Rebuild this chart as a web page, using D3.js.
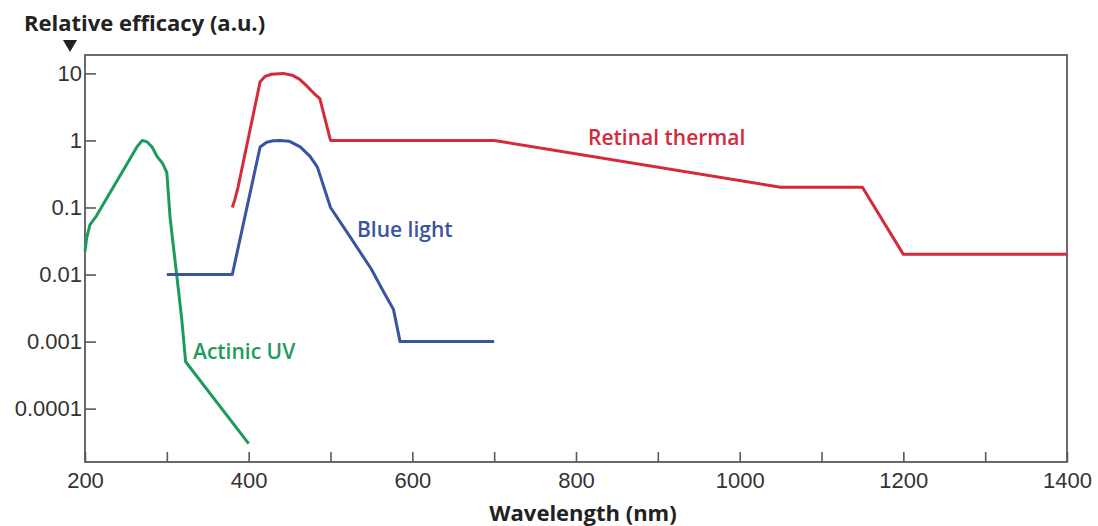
<!DOCTYPE html>
<html>
<head>
<meta charset="utf-8">
<script src="https://cdn.jsdelivr.net/npm/d3@7"></script>
<style>
    body { margin: 0; background: #fff; }
    svg { font-family: "Open Sans", Lato, sans-serif; }
</style>
</head>
<body>
<div id="chart"></div>
<script>
// Actinic UV hazard curve
const uvWavelength = [200, 202, 206, 214, 264, 270, 276, 282, 288, 295, 300, 304, 312, 318, 323, 400];
const uvEfficacy = [0.022, 0.035, 0.055, 0.075, 0.82, 1.0, 0.95, 0.8, 0.58, 0.45, 0.33, 0.07, 0.01, 0.0023, 0.0005, 0.00003];

// Blue light hazard curve
const blueWavelength = [300, 380, 414, 422, 430, 438, 450, 463, 475, 484, 500, 525, 550, 565, 577, 585, 700];
const blueEfficacy = [0.01, 0.01, 0.8, 0.94, 0.99, 1.0, 0.97, 0.8, 0.58, 0.4, 0.1, 0.035, 0.012, 0.0055, 0.003, 0.001, 0.001];

// Retinal thermal hazard curve
const thermalWavelength = [380, 383, 387, 414, 420, 428, 442, 453, 462, 471, 480, 487, 500, 700, 1050, 1150, 1200, 1400];
const thermalEfficacy = [0.1, 0.13, 0.2, 7.5, 9.0, 9.7, 10, 9.4, 8.2, 6.5, 5.0, 4.2, 1.0, 1.0, 0.2, 0.2, 0.02, 0.02];

const xTicks = [200, 300, 400, 500, 600, 700, 800, 900, 1000, 1100, 1200, 1300, 1400];
const yTicks = [10, 1, 0.1, 0.01, 0.001, 0.0001];
const yTickLabels = ["10", "1", "0.1", "0.01", "0.001", "0.0001"];

const width = 1098, height = 526;
const margin = {top: 55, right: 31, bottom: 64, left: 85};

const svg = d3.select("#chart").append("svg")
    .attr("width", width).attr("height", height);

const x = d3.scaleLinear().domain([200, 1400]).range([margin.left, width - margin.right]);
// 10 sits at y=73.3, one decade = 67.2px
const y = d3.scaleLog().domain([18.8, 1.6e-5]).range([margin.top, height - margin.bottom]);

// frame
svg.append("rect")
    .attr("x", margin.left).attr("y", margin.top)
    .attr("width", width - margin.left - margin.right)
    .attr("height", height - margin.top - margin.bottom)
    .attr("fill", "none").attr("stroke", "#5a5a5a").attr("stroke-width", 1.8);

const xAxis = d3.axisBottom(x).tickValues(xTicks).tickSizeInner(-10).tickSizeOuter(0).tickPadding(10)
    .tickFormat(d => d % 200 === 0 ? d : "");
const yAxis = d3.axisLeft(y).tickValues(yTicks).tickSizeInner(-11).tickSizeOuter(0).tickPadding(3)
    .tickFormat((d, i) => yTickLabels[i]);

const gx = svg.append("g").attr("transform", "translate(0," + (height - margin.bottom) + ")").call(xAxis);
const gy = svg.append("g").attr("transform", "translate(" + margin.left + ",0)").call(yAxis);

[gx, gy].forEach(function (g) {
    g.select(".domain").remove();
    g.selectAll(".tick line").attr("stroke", "#5a5a5a").attr("stroke-width", 1.6);
    g.selectAll(".tick text").attr("fill", "#333").style("font-size", "22px");
});

// curves
const line = d3.line().x(d => x(d[0])).y(d => y(d[1]));

const series = [
    {wl: uvWavelength, val: uvEfficacy, color: "#1d9b5c"},
    {wl: blueWavelength, val: blueEfficacy, color: "#3a54a0"},
    {wl: thermalWavelength, val: thermalEfficacy, color: "#d42a3c"}
];

series.forEach(function (s) {
    svg.append("path")
        .datum(s.wl.map((w, i) => [w, s.val[i]]))
        .attr("d", line)
        .attr("fill", "none")
        .attr("stroke", s.color)
        .attr("stroke-width", 3)
        .attr("stroke-linejoin", "round");
});

// curve labels
svg.append("text").attr("x", 193).attr("y", 359).attr("fill", "#1d9b5c")
    .style("font-size", "21px").style("font-weight", 600).text("Actinic UV");
svg.append("text").attr("x", 357).attr("y", 237).attr("fill", "#3a54a0")
    .style("font-size", "21px").style("font-weight", 600).text("Blue light");
svg.append("text").attr("x", 588).attr("y", 145).attr("fill", "#d42a3c")
    .style("font-size", "21px").style("font-weight", 600).text("Retinal thermal");

// axis titles
svg.append("text").attr("x", 24).attr("y", 31).attr("fill", "#222")
    .style("font-size", "22px").style("font-weight", "bold").text("Relative efficacy (a.u.)");
svg.append("path").attr("d", "M63,40 L77,40 L70,52 Z").attr("fill", "#222");

svg.append("text").attr("x", 583).attr("y", 521).attr("text-anchor", "middle").attr("fill", "#222")
    .style("font-size", "22px").style("font-weight", "bold").text("Wavelength (nm)");
</script>
</body>
</html>
